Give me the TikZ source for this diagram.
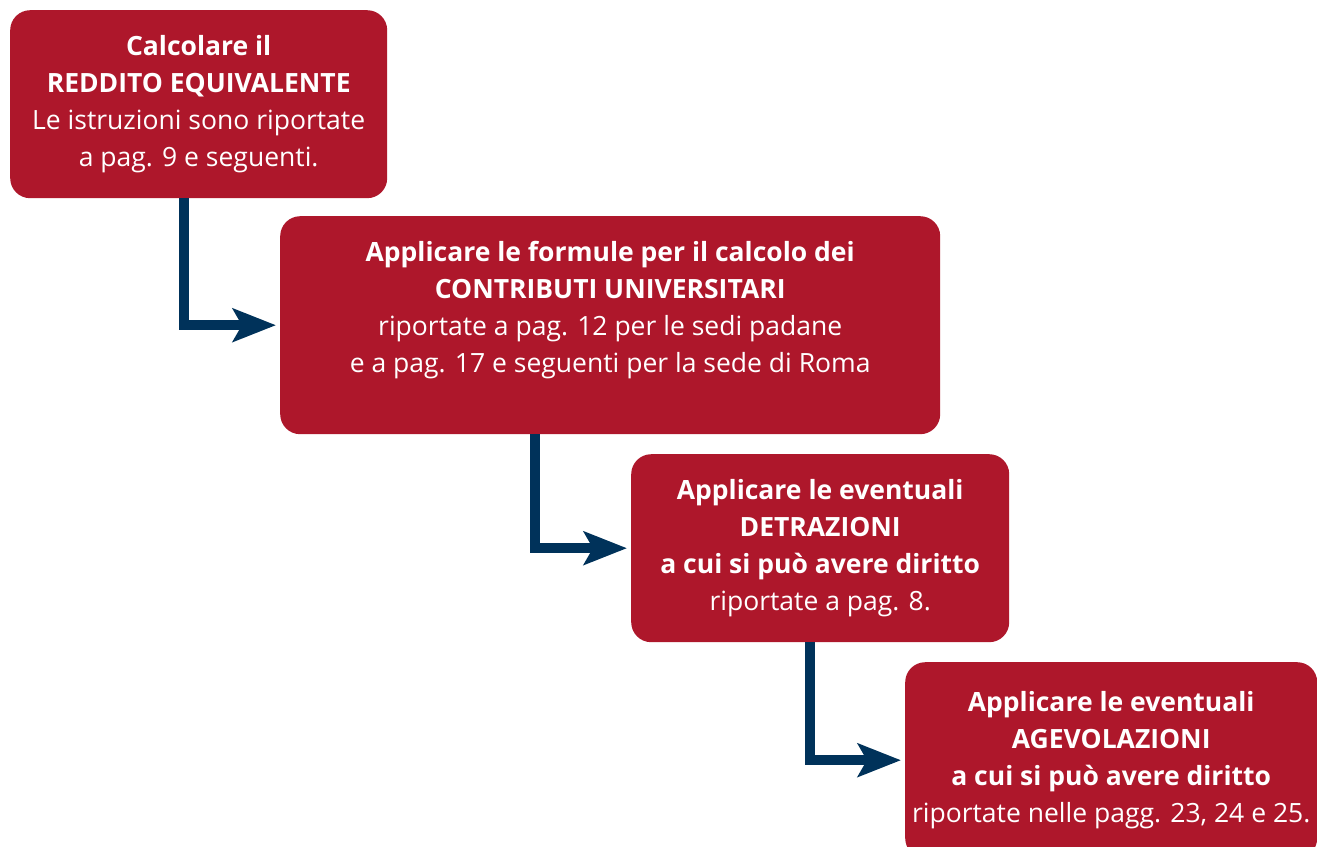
\documentclass[tikz,border=0pt]{standalone}
\usepackage{fontspec}
\setmainfont{Open Sans}
\usetikzlibrary{arrows.meta}
\definecolor{boxred}{HTML}{AE172B}
\definecolor{arrownavy}{HTML}{00325A}
\tikzset{
  stepbox/.style={fill=boxred, rounded corners=20pt, anchor=north west, text=white,
    align=center, inner sep=0pt, font=\fontsize{26.5}{37}\selectfont},
  flow/.style={draw=arrownavy, line width=10pt, line join=miter,
    -{Stealth[length=43pt,width=33pt,inset=9pt]}, shorten >=4pt}
}
\begin{document}
\begin{tikzpicture}[x=1pt,y=-1pt]
\useasboundingbox (0,0) rectangle (1317,846);
\node[stepbox, minimum width=377pt, minimum height=188pt] (reddito) at (10,10)
  {\textbf{Calcolare il}\\ \textbf{REDDITO EQUIVALENTE}\\ Le istruzioni sono riportate\\ a pag. 9 e seguenti.};
\node[stepbox, minimum width=660pt, minimum height=218pt] (contributi) at (280,216)
  {\textbf{Applicare le formule per il calcolo dei}\\ \textbf{CONTRIBUTI UNIVERSITARI}\\ riportate a pag. 12 per le sedi padane\\ e a pag. 17 e seguenti per la sede di Roma\\[0pt]};
\node[stepbox, minimum width=378pt, minimum height=188pt] (detrazioni) at (631,454)
  {\textbf{Applicare le eventuali}\\ \textbf{DETRAZIONI}\\ \textbf{a cui si può avere diritto}\\ riportate a pag. 8.};
\node[stepbox, minimum width=412pt, minimum height=196pt] (agevolazioni) at (905,662)
  {\textbf{Applicare le eventuali}\\ \textbf{AGEVOLAZIONI}\\ \textbf{a cui si può avere diritto}\\ riportate nelle pagg. 23, 24 e 25.};
% frecce
\draw[flow] ([xshift=174pt]reddito.south west) |- (contributi.west);
\draw[flow] ([xshift=255pt]contributi.south west) |- (detrazioni.west);
\draw[flow] ([xshift=179pt]detrazioni.south west) |- (agevolazioni.west);
\end{tikzpicture}
\end{document}
